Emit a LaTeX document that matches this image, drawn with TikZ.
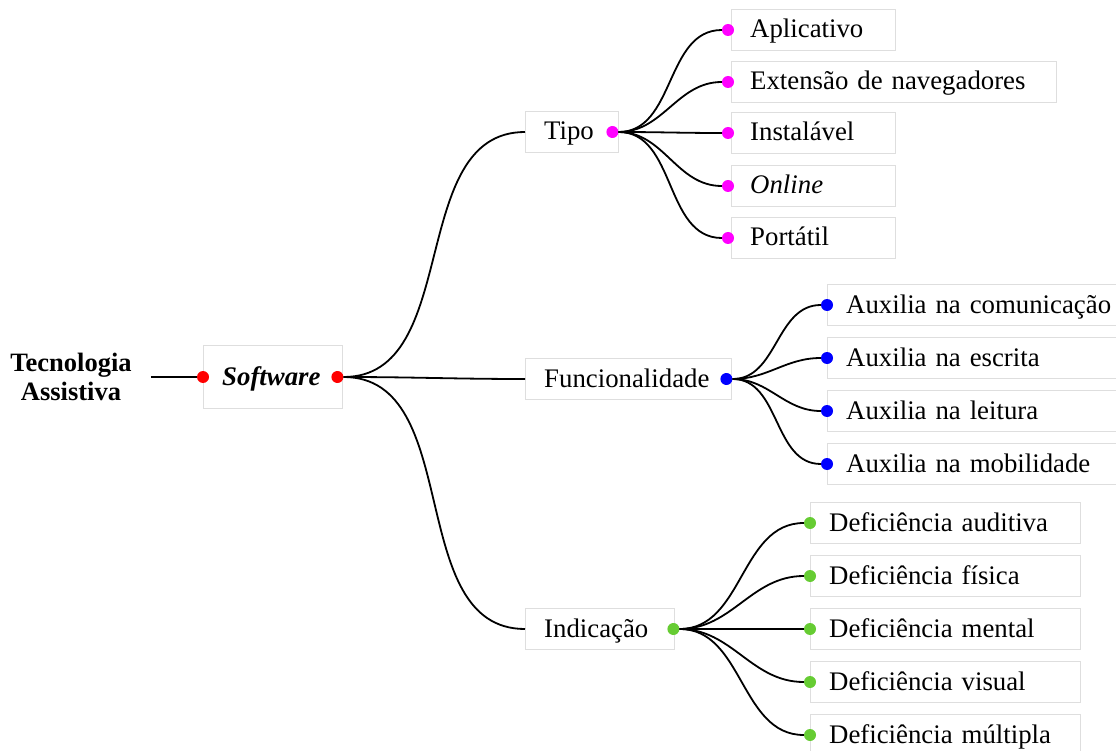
\documentclass[tikz,border=0pt]{standalone}
\usepackage{fontspec}
\setmainfont{Liberation Serif}
\usepackage{tikz}

\definecolor{swred}{RGB}{255,0,0}
\definecolor{tipomag}{RGB}{255,0,255}
\definecolor{funcblue}{RGB}{0,0,255}
\definecolor{indgreen}{RGB}{102,204,51}

\tikzset{
  box/.style={draw=black!13,fill=white,anchor=west,align=left,inner xsep=19pt,
    inner ysep=0pt,minimum height=41pt,text width=#1,text height=20pt,text depth=4pt,
    font=\fontsize{26.8}{30}\selectfont},
  pt/.style={circle,fill=#1,inner sep=0pt,minimum size=12pt},
  branch/.style={line width=1.8pt},
}

\begin{document}
\begin{tikzpicture}[x=1pt,y=1pt]
\useasboundingbox (0,0) rectangle (1116,-751);

% root and first level
\node[font=\bfseries\fontsize{26.5}{29}\selectfont,align=center,inner xsep=19pt](ta) at (71,-377) {Tecnologia\\Assistiva};
\node[box=101pt,minimum height=63pt,font=\bfseries\itshape\fontsize{26.8}{30}\selectfont](sw) at (203,-377) {Software};
\node[pt=swred](sw-i) at (sw.west) {};
\node[pt=swred](sw-o) at ([xshift=-5pt]sw.east) {};

\node[box=55pt](tipo) at (525,-132) {Tipo};
\node[box=168pt](func) at (525,-379) {Funcionalidade};
\node[box=111pt](ind) at (525,-629) {Indicação};
\node[pt=tipomag](tipo-o) at ([xshift=-6pt]tipo.east) {};
\node[pt=funcblue](func-o) at ([xshift=-5pt]func.east) {};
\node[pt=indgreen](ind-o) at ([xshift=-1pt]ind.east) {};

% Tipo
\node[box=126pt](apl) at (731,-30) {Aplicativo};
\node[box=287pt](ext) at (731,-82) {Extensão de navegadores};
\node[box=126pt](ins) at (731,-133) {Instalável};
\node[box=126pt](onl) at (731,-186) {\itshape Online};
\node[box=126pt](por) at (731,-238) {Portátil};
\node[pt=tipomag](apl-d) at ([xshift=-3pt]apl.west) {};
\node[pt=tipomag](ext-d) at ([xshift=-3pt]ext.west) {};
\node[pt=tipomag](ins-d) at ([xshift=-3pt]ins.west) {};
\node[pt=tipomag](onl-d) at ([xshift=-3pt]onl.west) {};
\node[pt=tipomag](por-d) at ([xshift=-3pt]por.west) {};

% Funcionalidade
\node[box=300pt](com) at (827,-305) {Auxilia na comunicação};
\node[box=300pt](esc) at (827,-358) {Auxilia na escrita};
\node[box=300pt](lei) at (827,-411) {Auxilia na leitura};
\node[box=300pt](mob) at (827,-464) {Auxilia na mobilidade};
\node[pt=funcblue](com-d) at (com.west) {};
\node[pt=funcblue](esc-d) at (esc.west) {};
\node[pt=funcblue](lei-d) at (lei.west) {};
\node[pt=funcblue](mob-d) at (mob.west) {};

% Indicacao
\node[box=232pt](aud) at (810,-523) {Deficiência auditiva};
\node[box=232pt](fis) at (810,-576) {Deficiência física};
\node[box=232pt](men) at (810,-629) {Deficiência mental};
\node[box=232pt](vis) at (810,-682) {Deficiência visual};
\node[box=232pt](mul) at (810,-735) {Deficiência múltipla};
\node[pt=indgreen](aud-d) at (aud.west) {};
\node[pt=indgreen](fis-d) at (fis.west) {};
\node[pt=indgreen](men-d) at (men.west) {};
\node[pt=indgreen](vis-d) at (vis.west) {};
\node[pt=indgreen](mul-d) at (mul.west) {};

% connectors
\draw[branch] (ta) -- (sw-i);
\draw[branch] (sw-o) to[out=0,in=180] (tipo);
\draw[branch] (sw-o) to[out=0,in=180] (func);
\draw[branch] (sw-o) to[out=0,in=180] (ind);

\draw[branch] (tipo-o) to[out=0,in=180] (apl-d);
\draw[branch] (tipo-o) to[out=0,in=180] (ext-d);
\draw[branch] (tipo-o) to[out=0,in=180] (ins-d);
\draw[branch] (tipo-o) to[out=0,in=180] (onl-d);
\draw[branch] (tipo-o) to[out=0,in=180] (por-d);

\draw[branch] (func-o) to[out=0,in=180] (com-d);
\draw[branch] (func-o) to[out=0,in=180] (esc-d);
\draw[branch] (func-o) to[out=0,in=180] (lei-d);
\draw[branch] (func-o) to[out=0,in=180] (mob-d);

\draw[branch] (ind-o) to[out=0,in=180] (aud-d);
\draw[branch] (ind-o) to[out=0,in=180] (fis-d);
\draw[branch] (ind-o) to[out=0,in=180] (men-d);
\draw[branch] (ind-o) to[out=0,in=180] (vis-d);
\draw[branch] (ind-o) to[out=0,in=180] (mul-d);
\end{tikzpicture}
\end{document}
